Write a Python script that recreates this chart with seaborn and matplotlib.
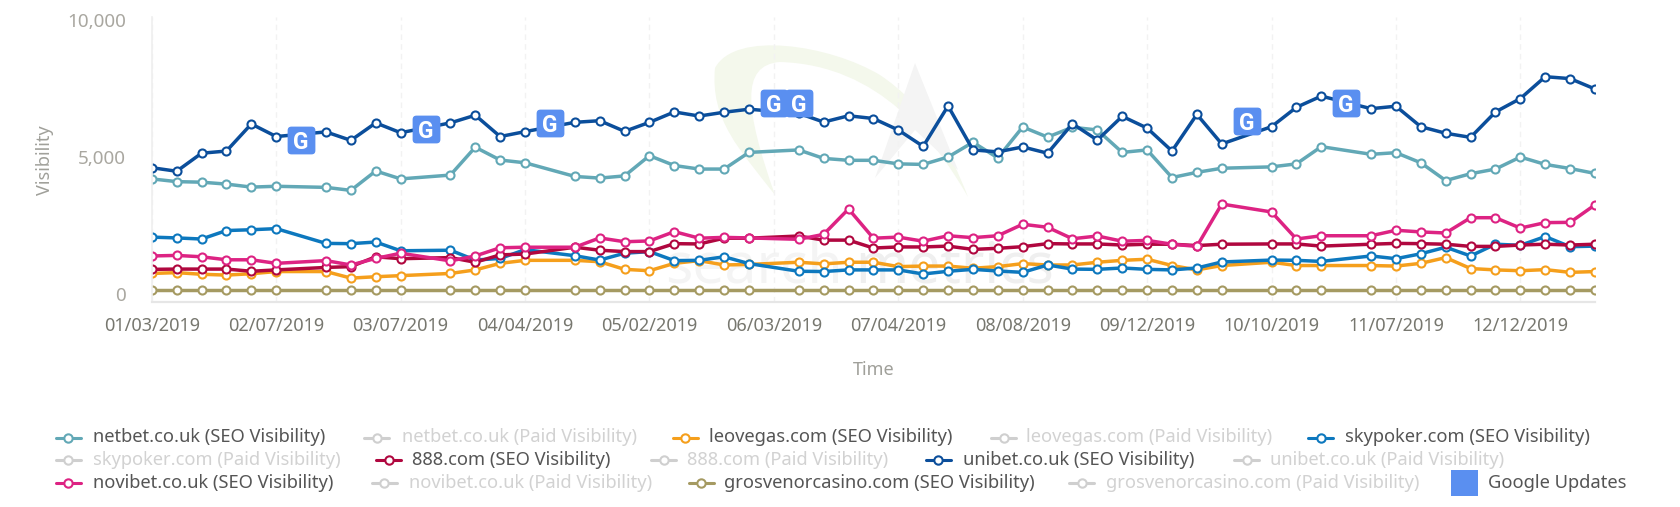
import numpy as np
import pandas as pd
import matplotlib
matplotlib.use("Agg")
import matplotlib.pyplot as plt
import seaborn as sns
from matplotlib.patches import FancyBboxPatch, PathPatch, Rectangle
from matplotlib.path import Path
from matplotlib.lines import Line2D
from matplotlib.transforms import ScaledTranslation

N = None
tick_labels = ["01/03/2019", "02/07/2019", "03/07/2019", "04/04/2019", "05/02/2019", "06/03/2019",
               "07/04/2019", "08/08/2019", "09/12/2019", "10/10/2019", "11/07/2019", "12/12/2019"]

netbet = [4090,3990,3970,3900,3790,3820,N,3780,3670,4380,4090,N,4230,5250,4780,4680,N,
          4180,4120,4200,4940,4580,4450,4450,5060,N,5150,4840,4770,4770,4640,4620,4890,5430,4860,5990,5620,5980,5880,
          5060,5150,4140,4330,4480,N,4530,4640,5270,N,4990,5050,4680,4030,4280,4450,4890,4620,4470,4290]
leovegas = [630,660,600,570,620,700,N,700,460,510,550,N,630,760,1000,1110,N,
            1110,1060,780,730,1000,1100,940,960,N,1040,980,1040,1040,880,900,900,820,880,990,940,940,1040,
            1110,1150,920,760,920,N,1040,920,920,N,920,900,1000,1210,810,760,730,770,670,700]
skypoker = [1960,1930,1890,2200,2230,2270,N,1730,1720,1780,1460,N,1480,1120,1180,1500,N,
            1280,1120,1370,1430,1100,1110,1240,990,N,710,700,760,760,760,610,710,780,720,670,940,790,780,
            830,780,760,830,1050,N,1120,1110,1070,N,1270,1170,1350,1590,1270,1700,1660,1980,1610,1630]
e888 = [780,790,790,790,710,760,N,850,880,1240,1170,N,1210,1040,1310,1340,N,
        1590,1480,1430,1430,1720,1710,1920,1920,N,2000,1850,1850,1560,1600,1600,1630,1510,1550,1610,1720,1710,1710,
        1670,1700,1700,1650,1700,N,1710,1710,1630,N,1700,1730,1720,1700,1620,1620,1670,1700,1670,1700]
unibet = [4500,4370,5030,5110,6100,5640,N,5810,5500,6140,5780,N,6140,6420,5640,5820,N,
          6160,6220,5830,6160,6540,6390,6530,6640,N,6490,6170,6400,6300,5880,5280,6760,5150,5080,5260,5030,6110,5510,
          6380,5950,5110,6450,5370,N,6000,6710,7120,N,6660,6750,6000,5760,5610,6540,7030,7830,7760,7380]
novibet = [1270,1290,1240,1130,1130,1000,N,1100,940,1180,1370,N,1090,1270,1570,1590,N,
           1590,1930,1790,1820,2160,1920,1950,1930,N,1880,2060,2990,1920,1960,1810,2010,1940,2010,2430,2320,1900,2000,
           1810,1840,1700,1620,3170,N,2880,1890,2010,N,2010,2210,2150,2110,2670,2670,2290,2490,2500,3140]
grosvenor = [15,15,15,15,15,15,N,15,15,15,15,N,15,15,15,15,N,
             15,15,15,15,15,15,15,15,N,15,15,15,15,15,15,15,15,15,15,15,15,15,
             15,15,15,15,15,N,15,15,15,N,15,15,15,15,15,15,15,15,15,15]

update_idx = [6, 11, 16, 25, 26, 44, 48]
update_val = [5510, 5900, 6150, 6860, 6860, 6220, 6860]

series = [("netbet.co.uk", netbet, "#62A8B6"), ("leovegas.com", leovegas, "#F59F1C"),
          ("skypoker.com", skypoker, "#0D78BE"), ("888.com", e888, "#B0073F"),
          ("unibet.co.uk", unibet, "#0B4E9B"), ("novibet.co.uk", novibet, "#DD2383"),
          ("grosvenorcasino.com", grosvenor, "#A59A62")]

sns.set_theme(style="white")
plt.rcParams["font.family"] = ["Noto Sans", "DejaVu Sans"]

W, H = 1680, 507
fig = plt.figure(figsize=(W / 100, H / 100), dpi=100, facecolor="white")

# pixel-space layer for watermark and legend
bg = fig.add_axes([0, 0, 1, 1], zorder=0)
bg.set_xlim(0, W); bg.set_ylim(H, 0); bg.axis("off")

sw = Path([(715, 68), (735, 30), (830, 45), (880, 75), (925, 105), (950, 150), (968, 197),
           (935, 140), (880, 65), (780, 62), (740, 65), (745, 110), (775, 195), (740, 150), (710, 120), (715, 68)],
          [Path.MOVETO] + [Path.CURVE4] * 15)
bg.add_patch(PathPatch(sw, fc="#F4F8EC", ec="none"))
star = Path([(915, 63), (875, 178), (915, 130), (958, 170), (915, 63)],
            [Path.MOVETO, Path.LINETO, Path.LINETO, Path.LINETO, Path.CLOSEPOLY])
bg.add_patch(PathPatch(star, fc="#F4F4F4", ec="none"))
bg.text(665, 268, "search", fontsize=41, color="#F4F4F4", va="center", ha="left")
bg.text(855, 268, "metrics", fontsize=41, color="#EFEFEF", va="center", ha="left", fontweight="bold")

L, R, T, B = 151.8, 1595, 17.4, 301.6
ax = fig.add_axes([L / W, 1 - B / H, (R - L) / W, (B - T) / H], zorder=1)
ax.patch.set_alpha(0)

idx = np.arange(len(netbet))
for name, vals, col in series:
    df = pd.DataFrame({"i": idx, "v": pd.to_numeric(pd.Series(vals), errors="coerce")}).dropna()
    sns.lineplot(data=df, x="i", y="v", ax=ax, color=col, linewidth=2.5, estimator=None,
                 marker="o", markersize=5.8, markerfacecolor="white", markeredgecolor=col,
                 markeredgewidth=1.5, legend=False)

rr = FancyBboxPatch((-0.36, -0.36), 0.72, 0.72, boxstyle="round,pad=0.14,rounding_size=0.14").get_path()
sns.scatterplot(x=update_idx, y=update_val, ax=ax, marker=rr, s=400, color="#5A8FF0",
                linewidth=0, zorder=6, legend=False)
for i, v in zip(update_idx, update_val):
    ax.text(i, v, "G", color="white", fontsize=16.5, fontweight="bold", ha="center", va="center_baseline",
            zorder=7, family=["Roboto", "DejaVu Sans"])

ax.set_xlim(0, 58)
ax.set_ylim(-400, 10000)
ax.set_yticks([0, 5000, 10000], ["0", "5,000", "10,000"])
ax.set_xticks(np.arange(len(tick_labels)) * 5, tick_labels)
ax.tick_params(axis="y", length=11.5, width=1, color="#E8E8E8", labelsize=13.6, labelcolor="#A9A7A0", pad=7)
ax.tick_params(axis="x", length=0, labelsize=13, labelcolor="#77776F", pad=11)
shift = ScaledTranslation(0, -3 / 100, fig.dpi_scale_trans)
for lbl in ax.get_yticklabels():
    lbl.set_transform(lbl.get_transform() + shift)
ax.xaxis.grid(True, color="#F2F2F2", linewidth=1, linestyle=(0, (4, 3)))
ax.yaxis.grid(False)
for s in ("top", "right"):
    ax.spines[s].set_visible(False)
ax.spines["left"].set_color("#EFEFEF"); ax.spines["left"].set_linewidth(1.2)
ax.spines["bottom"].set_color("#E6E6E6"); ax.spines["bottom"].set_linewidth(1.6)
ax.set_ylabel("Visibility", fontsize=13, color="#A0A09A")
ax.set_xlabel("Time", fontsize=13, color="#A0A09A")
ax.yaxis.set_label_coords((45 - L) / (R - L), (B - 160) / (B - T))
ax.xaxis.set_label_coords((874 - L) / (R - L), (B - 370) / (B - T))
ax.xaxis.label.set_ha("center"); ax.xaxis.label.set_va("center")
ax.yaxis.label.set_va("center")

# legend rows: (handle x, text x, label, colour)
GREY = "#CFCFCF"
s = 1680 / 1568
rows = [
    (437.5, [(52, 87, "netbet.co.uk (SEO Visibility)", "#62A8B6"),
             (340, 375, "netbet.co.uk (Paid Visibility)", GREY),
             (628, 662, "leovegas.com (SEO Visibility)", "#F59F1C"),
             (925, 958, "leovegas.com (Paid Visibility)", GREY),
             (1221, 1255, "skypoker.com (SEO Visibility)", "#0D78BE")]),
    (460, [(52, 87, "skypoker.com (Paid Visibility)", GREY),
           (351, 385, "888.com (SEO Visibility)", "#B0073F"),
           (608, 641, "888.com (Paid Visibility)", GREY),
           (864, 899, "unibet.co.uk (SEO Visibility)", "#0B4E9B"),
           (1152, 1185, "unibet.co.uk (Paid Visibility)", GREY)]),
    (483, [(52, 87, "novibet.co.uk (SEO Visibility)", "#DD2383"),
           (347, 382, "novibet.co.uk (Paid Visibility)", GREY),
           (643, 676, "grosvenorcasino.com (SEO Visibility)", "#A59A62"),
           (998, 1032, "grosvenorcasino.com (Paid Visibility)", GREY)]),
]
for y, items in rows:
    for hx, tx, lab, col in items:
        bg.add_line(Line2D([hx * s, hx * s + 25], [y, y], color=col, lw=2.2))
        bg.add_line(Line2D([hx * s + 12.5], [y], color=col, marker="o", ms=6, mfc="white", mec=col, mew=1.5))
        bg.text(tx * s, y, lab, fontsize=13.2, va="center", ha="left",
                color="#555555" if col != GREY else "#D2D2D2")
bg.add_patch(Rectangle((1354 * s, 470), 27, 26, fc="#5A8FF0", ec="none"))
bg.text(1389 * s, 483, "Google Updates", fontsize=13.2, va="center", ha="left", color="#555555")

fig.savefig("out.png", dpi=100, facecolor="white")
